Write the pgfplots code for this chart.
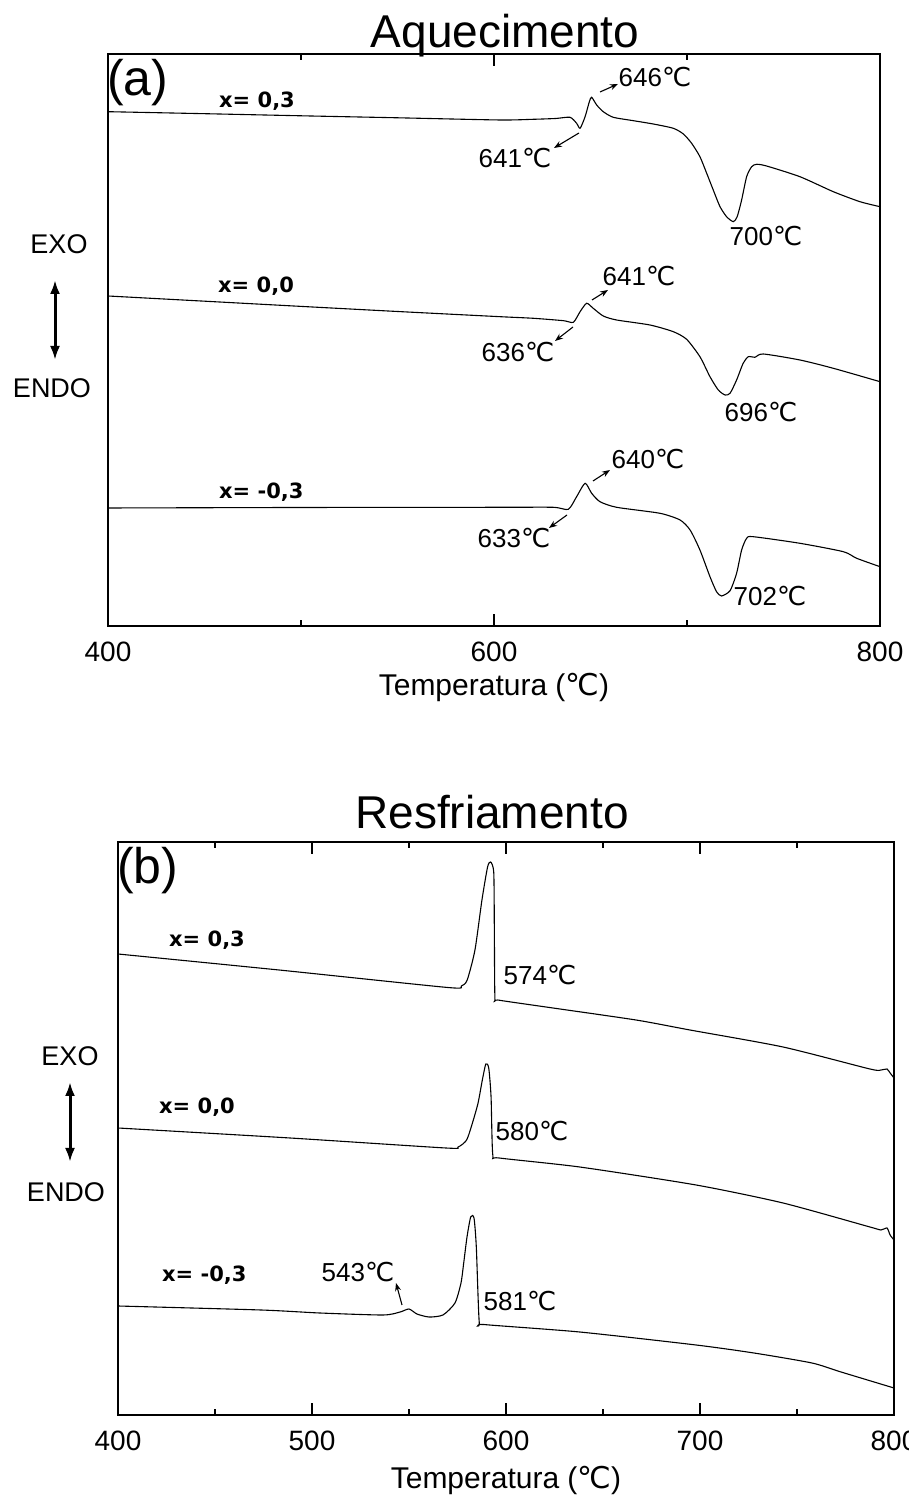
\documentclass[border=0pt]{standalone}
\usepackage{fontspec}
\setmainfont{Liberation Sans}
\newfontfamily\dejavu{DejaVu Sans}
\usepackage{pgfplots}
\pgfplotsset{compat=1.18}
\usetikzlibrary{arrows.meta}
\newcommand{\C}{{\dejavu ℃}}
\newcommand{\fs}[1]{\fontsize{#1pt}{#1pt}\selectfont}
\pgfplotsset{
  dta/.style={
    scale only axis,
    xmin=400, xmax=800, ymin=0,
    axis line style={line width=2pt},
    tick style={black, line width=1.3pt},
    major tick length=12pt, minor tick length=6pt,
    ytick=\empty,
    /pgf/number format/assume math mode=true,
    xticklabel style={font=\fs{28}, inner sep=0pt, yshift=-16pt},
    xlabel style={font=\fs{30}, at={(axis description cs:0.5,0)}, anchor=center},
  },
  curve/.style={black, line width=1.1pt, mark=none, smooth, tension=0.4},
}
\begin{document}
\begin{tikzpicture}[x=1pt,y=1pt]
\useasboundingbox (0,0) rectangle (909,1499);
% ---------------- (a) Aquecimento ----------------
\begin{axis}[dta, at={(108pt,873pt)}, anchor=south west,
  width=772pt, height=572pt, ymax=572,
  xtick={400,600,800}, minor xtick={500,700},
  minor ytick={47.7,95.3,143,190.7,238.3,286,333.7,381.3,429,476.7,524.3},
  xlabel={Temperatura (\C)}, xlabel style={yshift=-61pt}]
\addplot[curve] coordinates {(400,514.3) (450,512.3) (500,510.2) (550,508.2) (603.1,506) (620.4,506.7) (632,507.5) (639.4,508.7) (642.8,502.7) (644.6,497.7) (647.2,509.3) (649.4,524.3) (650.6,528.7) (653.2,521) (656.6,514.3) (661.8,508.7) (672.2,505.3) (682.5,502) (692.9,497.7) (698.1,492) (702.4,482.7) (706.7,469.3) (710.2,452.7) (713.6,436) (717.1,419.3) (720.5,409.3) (724,404.3) (726,409.3) (728.3,426) (730.9,449.3) (733.5,459.3) (736.1,461.7) (741.2,460) (758.5,449.3) (775.8,434.3) (789.6,424.3) (800,419.3)};
\addplot[curve] coordinates {(400,330) (450,324.8) (500,319.6) (550,314.5) (603.1,309.3) (620.4,307.7) (636,305.3) (641.1,303.7) (644.6,314.3) (648,322.7) (651.4,317.7) (656.6,310) (663.5,306) (680.8,301) (692.9,294.3) (699.8,286.7) (706.7,269.3) (711.9,249.3) (716.2,236) (719.7,231) (722.3,232.7) (725.7,246) (729.1,262.7) (731.8,269.3) (735.2,268.7) (739.5,272) (758.5,266) (775.8,257.7) (800,244.3)};
\addplot[curve] coordinates {(400,118) (500,118.5) (603.1,118.7) (630.7,118.7) (638.5,116.7) (642.8,129.3) (647.2,142.7) (650.6,132.7) (654.9,124.3) (663.5,118.7) (686,112.7) (696.4,106) (701.6,96) (706.7,76) (711.9,49.3) (715.3,34.3) (717.9,30) (722.3,35.3) (725.7,52.7) (728.3,76) (730.9,87.7) (734.3,89.3) (758.5,82.7) (781,74.3) (787.9,67.7) (800,59.3)};
\end{axis}
% ---------------- (b) Resfriamento ----------------
\begin{axis}[dta, at={(118pt,84pt)}, anchor=south west,
  width=776pt, height=573pt, ymax=573,
  xtick={400,500,600,700,800}, minor xtick={450,550,650,750},
  minor ytick={32.2,72.3,112.4,152.5,192.6,232.7,272.8,312.9,353,393.1,433.2,473.3,513.4,553.5},
  xlabel={Temperatura (\C)}, xlabel style={yshift=-65pt}]
\addplot[curve] coordinates {(400,461) (483,445) (570,427.5) (577,429) (580,435) (584,465) (587.6,515) (590.5,548) (592.1,553) (593.7,542) (594.0,482) (594.3,417) (595.8,415) (620.6,408) (667,395) (694.8,385) (742.8,368) (787.6,346) (793.3,345) (796.4,346) (798,342) (800,337)};
\addplot[curve] coordinates {(400,287) (488.7,277) (569,267) (575.3,268) (579.7,275) (582.7,292) (585.6,312) (587.8,335) (589.6,351) (591.1,347) (592.3,318) (593.2,260) (596.5,257) (638,248) (698,230) (742.8,212) (787.6,188) (793.3,185) (796.4,187) (798,180) (800,175)};
\addplot[curve] coordinates {(400,109) (473.7,105) (504,102) (536.6,100) (545.4,103) (550,106) (554.1,101) (560.3,98) (567.5,100) (573.7,112) (576.8,132) (578.2,152) (579.9,178) (581.8,198) (583.5,197) (584.7,168) (586.2,93) (588.5,90.5) (638,83) (698,70) (727.8,62) (757.7,52) (772.7,43) (800,27)};
\end{axis}
% ---------------- annotations (pixel frame) ----------------
\begin{scope}[shift={(0,1499)}, yscale=-1]
  % titles and panel letters
  \node[font=\fs{46}, anchor=base, inner sep=0pt] at (505,48) {Aquecimento};
  \node[font=\fs{46}, anchor=base, inner sep=0pt] at (492,829) {Resfriamento};
  \node[font=\fs{50}, anchor=north west, inner sep=0pt] at (107,59) {(a)};
  \node[font=\fs{50}, anchor=north west, inner sep=0pt] at (117,847) {(b)};
  % EXO / ENDO
  \node[font=\fs{27}] at (59,244) {EXO};
  \node[font=\fs{27}] at (52,388) {ENDO};
  \draw[{Latex[length=14pt,width=10pt]}-{Latex[length=14pt,width=10pt]}, line width=3pt] (55,280) -- (55,360);
  \node[font=\fs{27}] at (70,1056) {EXO};
  \node[font=\fs{27}] at (66,1192) {ENDO};
  \draw[{Latex[length=14pt,width=10pt]}-{Latex[length=14pt,width=10pt]}, line width=3pt] (70,1082) -- (70,1162);
  % series labels
  \node[font=\dejavu\bfseries\fs{21}, anchor=west, inner sep=0pt] at (219,101) {x= 0,3};
  \node[font=\dejavu\bfseries\fs{21}, anchor=west, inner sep=0pt] at (218,286) {x= 0,0};
  \node[font=\dejavu\bfseries\fs{21}, anchor=west, inner sep=0pt] at (219,492) {x= -0,3};
  \node[font=\dejavu\bfseries\fs{21}, anchor=west, inner sep=0pt] at (169,940) {x= 0,3};
  \node[font=\dejavu\bfseries\fs{21}, anchor=west, inner sep=0pt] at (159,1107) {x= 0,0};
  \node[font=\dejavu\bfseries\fs{21}, anchor=west, inner sep=0pt] at (162,1275) {x= -0,3};
  % temperature annotations (a)
  \node[font=\fs{26}, inner sep=0pt] at (655,77) {646\C};
  \node[font=\fs{26}, inner sep=0pt] at (515,158) {641\C};
  \node[font=\fs{26}, inner sep=0pt] at (766,236) {700\C};
  \node[font=\fs{26}, inner sep=0pt] at (639,276) {641\C};
  \node[font=\fs{26}, inner sep=0pt] at (518,352) {636\C};
  \node[font=\fs{26}, inner sep=0pt] at (761,412) {696\C};
  \node[font=\fs{26}, inner sep=0pt] at (648,459) {640\C};
  \node[font=\fs{26}, inner sep=0pt] at (514,538) {633\C};
  \node[font=\fs{26}, inner sep=0pt] at (770,596) {702\C};
  \tikzset{ann/.style={-{Stealth[length=8pt,width=6pt]}, line width=1.1pt}}
  \draw[ann] (600,92) -- (618,84);
  \draw[ann] (579,133) -- (554,148);
  \draw[ann] (592,300) -- (608,290);
  \draw[ann] (573,327) -- (555,341);
  \draw[ann] (593,481) -- (610,470);
  \draw[ann] (567,515) -- (549,528);
  % temperature annotations (b)
  \node[font=\fs{26}, inner sep=0pt] at (540,975) {574\C};
  \node[font=\fs{26}, inner sep=0pt] at (532,1131) {580\C};
  \node[font=\fs{26}, inner sep=0pt] at (358,1272) {543\C};
  \node[font=\fs{26}, inner sep=0pt] at (520,1301) {581\C};
  \draw[ann] (402,1305) -- (396,1283);
\end{scope}
\end{tikzpicture}
\end{document}
